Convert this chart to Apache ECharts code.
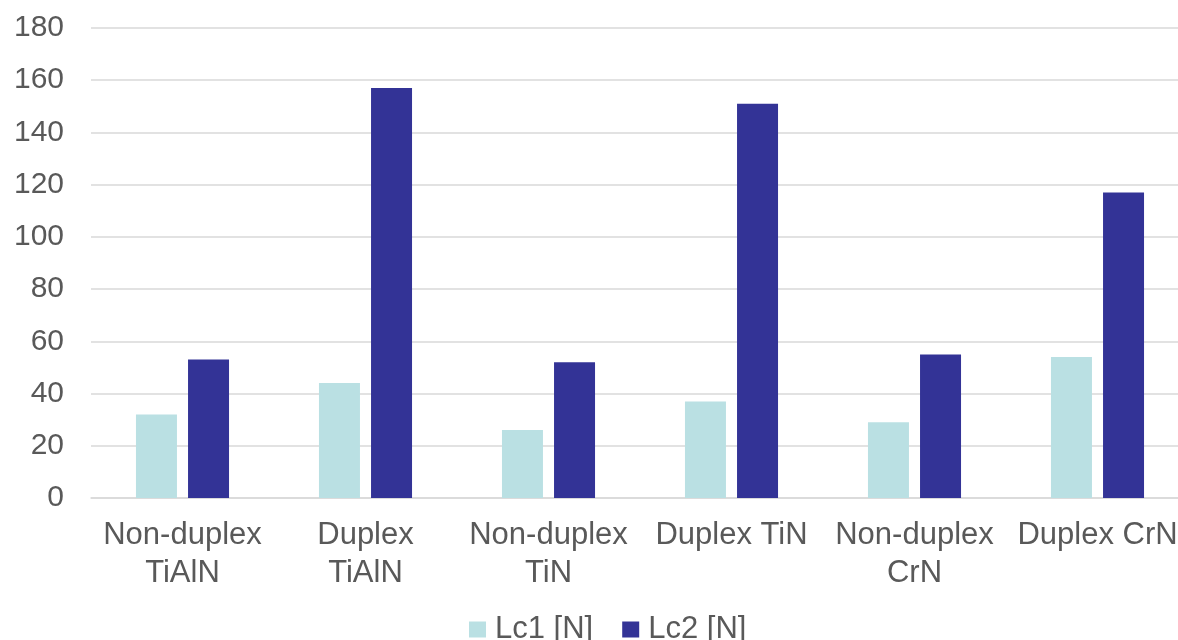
<!DOCTYPE html>
<html>
<head>
<meta charset="utf-8">
<script src="https://cdn.jsdelivr.net/npm/echarts@6/dist/echarts.min.js"></script>
<style>
  html, body { margin: 0; padding: 0; background: #ffffff; }
  #chart { width: 1178px; height: 640px; }
</style>
</head>
<body>
<div id="chart"></div>
<script>
// Coating variants along the x axis
const categories = [
  'Non-duplex\nTiAlN', 'Duplex\nTiAlN',
  'Non-duplex\nTiN', 'Duplex TiN',
  'Non-duplex\nCrN', 'Duplex CrN'
];
// Critical loads (N)
const lc1Values = [32, 44, 26, 37, 29, 54];
const lc2Values = [53, 157, 52, 151, 55, 117];
const seriesNames = ['Lc1 [N]', 'Lc2 [N]'];
const yTicks = { min: 0, max: 180, interval: 20 };

const textColor = '#595959';
const gridColor = '#d9d9d9';
const fontFamily = '"Liberation Sans", Arial, sans-serif';

const chart = echarts.init(document.getElementById('chart'), null, { renderer: 'canvas' });
chart.setOption({
  animation: false,
  backgroundColor: '#ffffff',
  textStyle: { fontFamily: fontFamily, color: textColor },
  grid: {
    left: 91, right: -11, top: 28, bottom: 142,
    containLabel: false, outerBoundsMode: 'none'
  },
  legend: {
    data: seriesNames,
    left: 464, top: 609,
    itemWidth: 17, itemHeight: 16, itemGap: 29,
    icon: 'rect',
    textStyle: { fontSize: 31, color: textColor, fontFamily: fontFamily, padding: [0, 0, 0, 4] }
  },
  xAxis: {
    type: 'category',
    data: categories,
    axisTick: { show: false },
    axisLine: { show: true, lineStyle: { color: gridColor, width: 1.5 } },
    axisLabel: {
      interval: 0, margin: 18,
      fontSize: 31, lineHeight: 38, color: textColor, fontFamily: fontFamily
    }
  },
  yAxis: {
    type: 'value',
    min: yTicks.min, max: yTicks.max, interval: yTicks.interval,
    axisLine: { show: false },
    axisTick: { show: false },
    splitLine: { lineStyle: { color: gridColor, width: 1.5 } },
    axisLabel: { margin: 27, fontSize: 30, color: textColor, fontFamily: fontFamily }
  },
  series: [
    {
      name: seriesNames[0], type: 'bar', data: lc1Values,
      barWidth: 41, barGap: '27%',
      itemStyle: { color: '#bae0e3' }
    },
    {
      name: seriesNames[1], type: 'bar', data: lc2Values,
      barWidth: 41, barGap: '27%',
      itemStyle: { color: '#333396' }
    }
  ]
});
</script>
</body>
</html>
